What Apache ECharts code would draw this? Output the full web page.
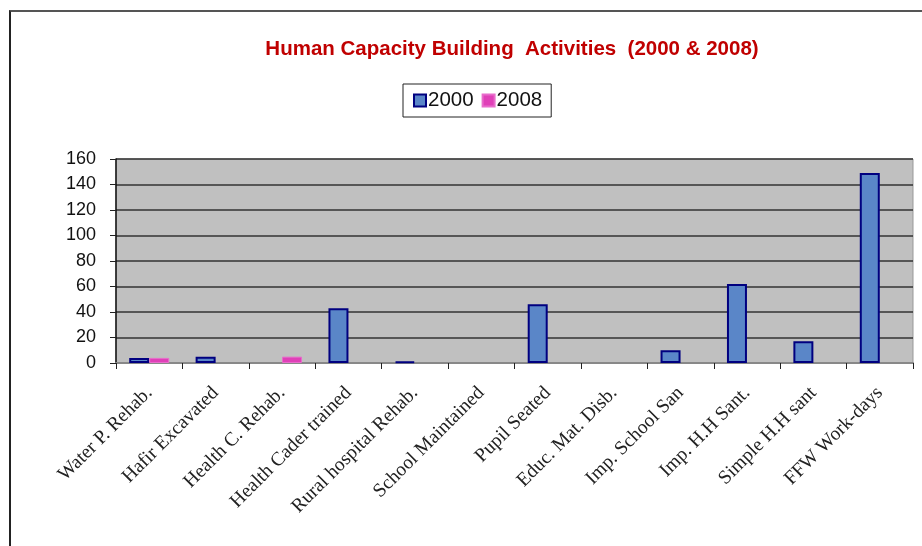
<!DOCTYPE html>
<html>
<head>
<meta charset="utf-8">
<script src="https://cdn.jsdelivr.net/npm/echarts@6/dist/echarts.min.js"></script>
<style>
html,body{margin:0;padding:0;background:#fff;}
#frame{position:absolute;left:9px;top:10px;width:940px;height:560px;border-left:2px solid #222;border-top:2px solid #555;box-sizing:border-box;}
#c{position:absolute;left:0;top:0;width:922px;height:546px;}
</style>
</head>
<body>
<div id="frame"></div>
<div id="c"></div>
<script>
const categories = ["Water P. Rehab.", "Hafir Excavated", "Health C. Rehab.", "Health Cader trained", "Rural hospital Rehab.", "School Maintained", "Pupil Seated", "Educ. Mat. Disb.", "Imp. School San", "Imp. H.H Sant.", "Simple H.H sant", "FFW Work-days"];
const values2000 = [4, 5, 0, 43, 1, 0, 46, 0, 10, 62, 17, 149];
const values2008 = [4, 0, 5, 0, 0, 0, 0, 0, 0, 0, 0, 0];
const yTicks = [0, 20, 40, 60, 80, 100, 120, 140, 160];

const hideZero = arr => arr.map(v => (v === 0 ? '-' : v));

const chart = echarts.init(document.getElementById('c'));
chart.setOption({
  animation: false,
  title: {
    text: 'Human Capacity Building  Activities  (2000 & 2008)',
    left: 507, top: 34, textAlign: 'center',
    textStyle: {fontFamily: 'Liberation Sans, Arial', fontWeight: 'bold', fontSize: 20.5, color: '#c00000'}
  },
  legend: {
    left: 403, top: 84,
    padding: [6, 9, 6, 10],
    itemWidth: 12, itemHeight: 12, itemGap: 8,
    borderColor: '#222', borderWidth: 1,
    textStyle: {fontFamily: 'Liberation Sans, Arial', fontSize: 20.5, color: '#111', padding: [0, 0, 0, -3]},
    data: [{name: '2000', icon: 'rect'}, {name: '2008', icon: 'rect'}]
  },
  grid: {
    left: 116, right: 9, top: 159, bottom: 183,
    show: true, backgroundColor: '#c0c0c0', borderColor: '#999', borderWidth: 1
  },
  xAxis: {
    type: 'category', data: categories,
    axisLine: {lineStyle: {color: '#888', width: 2}},
    axisTick: {show: true, length: 6, lineStyle: {color: '#222'}},
    axisLabel: {rotate: 45, interval: 0, margin: 27, fontFamily: 'Liberation Serif, Times New Roman', fontSize: 19.5, color: '#222'}
  },
  yAxis: {
    type: 'value', min: 0, max: 160, interval: 20,
    axisLine: {show: true, lineStyle: {color: '#111', width: 1.5}},
    axisTick: {show: true, length: 6, lineStyle: {color: '#222'}},
    axisLabel: {margin: 20, fontFamily: 'Liberation Sans, Arial', fontSize: 18, color: '#111',
      formatter: v => yTicks.includes(v) ? String(v) : ''},
    splitLine: {lineStyle: {color: '#333', width: 1.5}}
  },
  series: [
    {name: '2000', type: 'bar', data: hideZero(values2000), barWidth: 20, barGap: '0%',
      itemStyle: {color: '#5a86c8', borderColor: '#000080', borderWidth: 2}},
    {name: '2008', type: 'bar', data: hideZero(values2008), barWidth: 20,
      itemStyle: {color: '#e040b8', borderColor: '#e86ccb', borderWidth: 1}}
  ]
});
</script>
</body>
</html>
